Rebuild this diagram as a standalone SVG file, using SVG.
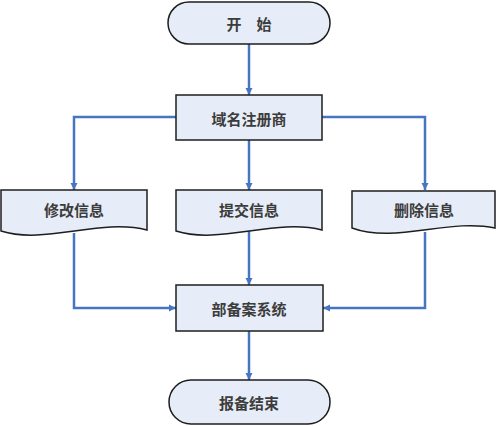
<svg xmlns="http://www.w3.org/2000/svg" width="499" height="426" viewBox="0 0 499 426">
<defs>
<style>
.n{fill:#e7edf8;stroke:#1e1e1e;stroke-width:1.5}
.t{font-family:"Noto Sans CJK SC","Liberation Sans",sans-serif;font-size:15px;font-weight:bold;fill:#3c3c3c;text-anchor:middle;dominant-baseline:central}
.c{fill:none;stroke:#4675c2;stroke-width:2.5;marker-end:url(#a)}
</style>
<marker id="a" markerUnits="userSpaceOnUse" markerWidth="9" markerHeight="8" refX="7" refY="4" orient="auto">
<path d="M0,0.5 L7,4 L0,7.5 z" fill="#4675c2"/>
</marker>
</defs>
<rect width="499" height="426" fill="#ffffff"/>
<g id="connectors">
<path class="c" d="M249,44 V95"/>
<path class="c" d="M176,117 H74 V190"/>
<path class="c" d="M249,140 V190"/>
<path class="c" d="M322,117 H425 V190"/>
<path class="c" d="M74,233 V308 H176"/>
<path class="c" d="M249,231 V285"/>
<path class="c" d="M425,232 V308 H323"/>
<path class="c" d="M249,331 V380"/>
</g>
<g id="start">
<rect class="n" x="168" y="2" width="162" height="42" rx="21"/>
<text class="t" x="249" y="23">开　始</text>
</g>
<g id="registrar">
<rect class="n" x="176" y="95" width="146" height="45"/>
<text class="t" x="249" y="118">域名注册商</text>
</g>
<g id="modify">
<path class="n" d="M1,190 H147 V230 C100,218 45,245 1,231 Z"/>
<text class="t" x="74" y="209">修改信息</text>
</g>
<g id="submit">
<path class="n" d="M176,190 H322 V230 C275,218 220,245 176,231 Z"/>
<text class="t" x="249" y="209">提交信息</text>
</g>
<g id="delete">
<path class="n" d="M352,191 H495 V228 C449,218 395,244 352,228 Z"/>
<text class="t" x="424" y="209">删除信息</text>
</g>
<g id="system">
<rect class="n" x="176" y="285" width="147" height="46"/>
<text class="t" x="249" y="308">部备案系统</text>
</g>
<g id="end">
<rect class="n" x="169" y="380" width="161" height="44" rx="22"/>
<text class="t" x="249" y="402">报备结束</text>
</g>
</svg>
